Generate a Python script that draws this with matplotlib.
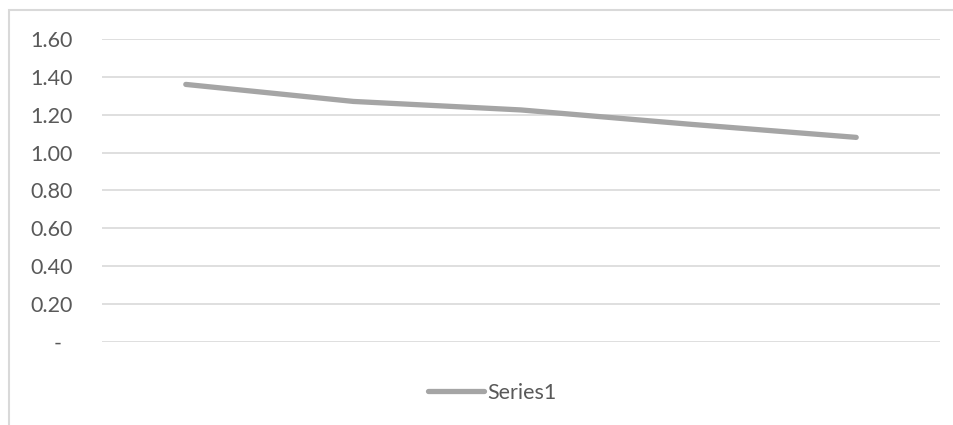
import matplotlib.pyplot as plt
from matplotlib.patches import Rectangle
from matplotlib.ticker import FuncFormatter

# Data
categories = [1, 2, 3, 4, 5]
series1 = [1.36, 1.27, 1.225, 1.15, 1.08]
y_ticks = [0.0, 0.2, 0.4, 0.6, 0.8, 1.0, 1.2, 1.4, 1.6]

plt.rcParams['font.family'] = ['Lato', 'DejaVu Sans']

fig = plt.figure(figsize=(9.54, 4.25), dpi=100)
ax = fig.add_axes([102 / 954, 1 - 341.7 / 425, 838 / 954, (341.7 - 39) / 425])

x = list(range(len(categories)))
ax.plot(x, series1, color='#A5A5A5', linewidth=3.8, solid_capstyle='round', label='Series1')

ax.set_xlim(-0.5, len(categories) - 0.5)
ax.set_ylim(0, 1.6)
ax.set_yticks(y_ticks)


def fmt(v, pos):
    # Excel accounting style: zero shows as a dash
    if abs(v) < 1e-9:
        return '-  '
    return '%.2f' % v


ax.yaxis.set_major_formatter(FuncFormatter(fmt))
ax.set_xticks([])
ax.tick_params(axis='y', length=0, pad=21, labelsize=15.5, labelcolor='#595959')
ax.grid(axis='y', color='#D9D9D9', linewidth=1.2)
ax.set_axisbelow(True)
for s in ax.spines.values():
    s.set_visible(False)

leg = fig.legend(loc='center', bbox_to_anchor=(492 / 954, 1 - 393 / 425), frameon=False,
                 fontsize=15.5, handlelength=2.6, handletextpad=0.15)
for t in leg.get_texts():
    t.set_color('#595959')

# chart frame (right and bottom edges fall outside the picture)
fig.patches.append(Rectangle((9 / 954, -0.1), 1.2, 1 - 10 / 425 + 0.1, transform=fig.transFigure,
                             fill=False, edgecolor='#D9D9D9', linewidth=1.5))

fig.savefig('out.png', dpi=100)
